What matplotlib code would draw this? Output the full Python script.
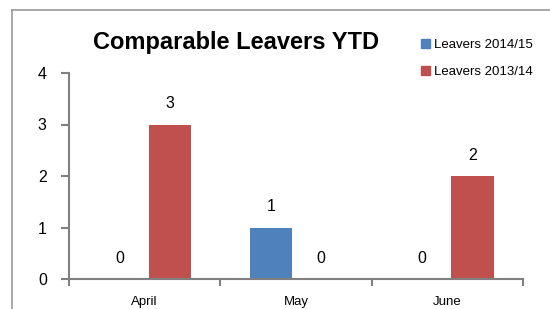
import matplotlib
matplotlib.use("Agg")
import matplotlib.pyplot as plt
import numpy as np
from matplotlib.patches import Patch
from matplotlib.lines import Line2D

# datos
meses = ["April", "May", "June"]
leavers_2014_15 = [0, 1, 0]
leavers_2013_14 = [3, 0, 2]
series_nombres = ["Leavers 2014/15", "Leavers 2013/14"]
colores = ["#4F81BD", "#C0504D"]
titulo = "Comparable Leavers YTD"

plt.rcParams['font.family'] = ['Liberation Sans', 'DejaVu Sans']

fig = plt.figure(figsize=(5.5, 3.09), dpi=100)
ax = fig.add_axes([69 / 550, 1 - 279 / 309, (523 - 69) / 550, (279 - 73) / 309])

x = np.arange(len(meses))
ancho = 0.28
desp = 0.167
for i, (valores, col) in enumerate(zip([leavers_2014_15, leavers_2013_14], colores)):
    pos = x + (desp if i else -desp)
    ax.bar(pos, valores, width=ancho, color=col, label=series_nombres[i])
    for xb, v in zip(pos, valores):
        ax.annotate(str(v), (xb, v), xytext=(0, 15), textcoords='offset points',
                    ha='center', va='center', fontsize=11.5)

ax.set_xlim(-0.5, len(meses) - 0.5)
ax.set_ylim(0, 4)
ax.set_yticks([0, 1, 2, 3, 4])
ax.set_xticks(x)
ax.set_xticklabels(meses, fontsize=9.5)
ax.set_xticks(np.arange(-0.5, len(meses)), minor=True)
ax.tick_params(axis='x', which='major', length=0, pad=12)
ax.tick_params(axis='x', which='minor', length=5, color='#808080', width=1.5)
ax.tick_params(axis='y', length=6, color='#808080', width=1.5, labelsize=11.5, pad=10)

for lado in ['top', 'right']:
    ax.spines[lado].set_visible(False)
for lado in ['left', 'bottom']:
    ax.spines[lado].set_color('#808080')
    ax.spines[lado].set_linewidth(1.5)

fig.text(236 / 550, 1 - 42 / 309, titulo, ha='center', va='center',
         fontsize=17, fontweight='bold')

handles = [Patch(color=c) for c in colores]
fig.legend(handles, series_nombres, loc='upper left',
           bbox_to_anchor=(421 / 550, 1 - 39 / 309), frameon=False,
           fontsize=9.5, handlelength=0.65, handleheight=0.65,
           handletextpad=0.3, labelspacing=1.15, borderpad=0, borderaxespad=0)

# borde del grafico
fig.add_artist(Line2D([12 / 550, 12 / 550], [0, 1 - 10 / 309], color='#9a9a9a', lw=1.2,
                      transform=fig.transFigure))
fig.add_artist(Line2D([12 / 550, 1], [1 - 10 / 309, 1 - 10 / 309], color='#9a9a9a', lw=1.2,
                      transform=fig.transFigure))

fig.savefig("out.png", dpi=100)
